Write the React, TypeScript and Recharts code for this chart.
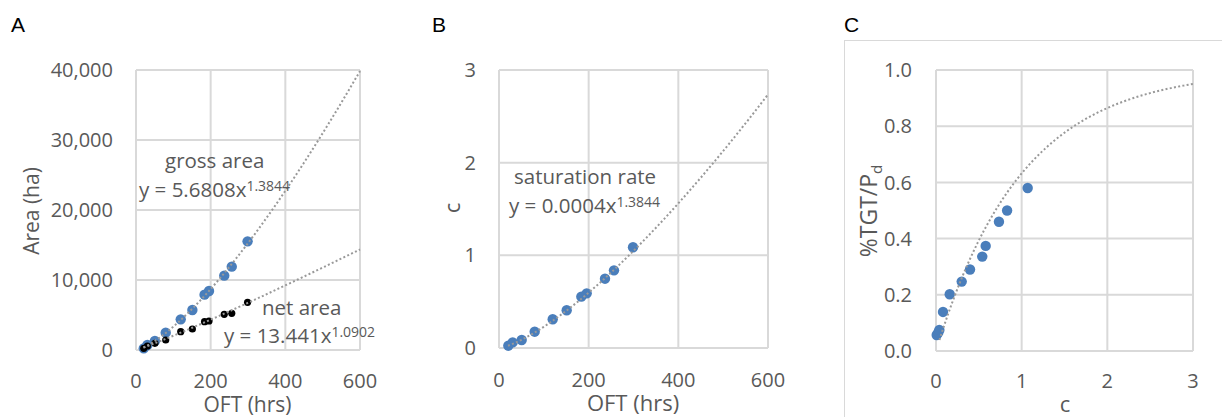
import React from 'react';
import { ScatterChart, Scatter, XAxis, YAxis, CartesianGrid } from 'recharts';

// ---------- data ----------
const OFT_HRS = [20.8, 30.5, 50.6, 79.6, 119.8, 151, 183.6, 195.6, 236.4, 256.5, 298.9];
const GROSS_AREA = [238, 714, 1286, 2476, 4381, 5714, 7905, 8429, 10619, 11905, 15524];
const NET_AREA = [238, 571, 952, 1429, 2619, 3000, 4048, 4143, 5095, 5238, 6810];
const SAT_RATE = [0.025, 0.061, 0.086, 0.176, 0.31, 0.407, 0.554, 0.59, 0.748, 0.838, 1.087];
const C_VALUES = [0.008, 0.027, 0.039, 0.082, 0.16, 0.3, 0.397, 0.54, 0.58, 0.735, 0.83, 1.07];
const TGT_PD = [0.057, 0.066, 0.075, 0.139, 0.202, 0.247, 0.29, 0.336, 0.374, 0.46, 0.5, 0.58];

// trendline equations shown on the chart
const GROSS_FIT = { a: 5.6808, b: 1.3844 };
const NET_FIT = { a: 13.441, b: 1.0902 };
const SAT_FIT = { a: 0.00039, b: 1.3844 }; // displayed as 0.0004
// panel C fitted curve: y = 1 - exp(-c)

// ticks
const OFT_TICKS = [0, 200, 400, 600];
const AREA_TICKS = [0, 10000, 20000, 30000, 40000];
const SAT_TICKS = [0, 1, 2, 3];
const C_TICKS = [0, 1, 2, 3];
const TGT_TICKS = [0, 0.2, 0.4, 0.6, 0.8, 1.0];

// ---------- derived ----------
const grossPts = OFT_HRS.map((x, i) => ({ x, y: GROSS_AREA[i] }));
const netPts = OFT_HRS.map((x, i) => ({ x, y: NET_AREA[i] }));
const satPts = OFT_HRS.map((x, i) => ({ x, y: SAT_RATE[i] }));
const cPts = C_VALUES.map((x, i) => ({ x, y: TGT_PD[i] }));

const powerCurve = (a: number, b: number, from: number, to: number, n = 80) =>
  Array.from({ length: n + 1 }, (_, i) => {
    const x = from + ((to - from) * i) / n;
    return { x, y: a * Math.pow(x, b) };
  });
const satCurve = (from: number, to: number, n = 80) =>
  Array.from({ length: n + 1 }, (_, i) => {
    const x = from + ((to - from) * i) / n;
    return { x, y: 1 - Math.exp(-x) };
  });

const grossTrend = powerCurve(GROSS_FIT.a, GROSS_FIT.b, 20, 600);
const netTrend = powerCurve(NET_FIT.a, NET_FIT.b, 20, 600);
const satTrend = powerCurve(SAT_FIT.a, SAT_FIT.b, 20, 600);
const cTrend = satCurve(0.04, 3);

// ---------- styles ----------
const FONT = "'Open Sans', sans-serif";
const TXT = '#595959';
const GRID = '#d9d9d9';
const BLUE = '#4A7EBB';
const TREND = { stroke: '#999999', strokeWidth: 2, strokeDasharray: '2 2.3' };
const tickStyle = { fill: TXT, fontSize: 20, fontFamily: FONT };

const BlueDot = (p: any) => <circle cx={p.cx} cy={p.cy} r={5.2} fill={BLUE} />;
const BlackDot = (p: any) => <circle cx={p.cx} cy={p.cy} r={3.6} fill="#000" />;
const NoDot = () => <g />;

const fmtThousands = (v: number) => v.toLocaleString('en-US');

export default function App() {
  return (
    <div style={{ position: 'absolute', left: 0, top: 0, width: 1222, height: 417, background: '#fff', overflow: 'hidden' }}>
      {/* panel C frame */}
      <div style={{ position: 'absolute', left: 844, top: 40, width: 420, height: 420, border: `1.5px solid ${GRID}`, boxSizing: 'border-box' }} />

      {/* Panel A */}
      <div style={{ position: 'absolute', left: 0, top: 0 }}>
        <ScatterChart width={410} height={417} margin={{ top: 70, right: 50, bottom: 0, left: 0 }}>
          <CartesianGrid stroke={GRID} strokeWidth={2} />
          <XAxis type="number" dataKey="x" domain={[0, 600]} ticks={OFT_TICKS} height={67}
            axisLine={false} tickLine={false} tickSize={0} tickMargin={24} tick={tickStyle} />
          <YAxis type="number" dataKey="y" domain={[0, 40000]} ticks={AREA_TICKS} width={136}
            axisLine={false} tickLine={false} tickSize={0} tickMargin={23} tick={tickStyle} tickFormatter={fmtThousands} />
          <Scatter data={grossPts} shape={BlueDot} isAnimationActive={false} />
          <Scatter data={netPts} shape={BlackDot} isAnimationActive={false} />
          <Scatter data={grossTrend} shape={NoDot} line={TREND} lineType="joint" isAnimationActive={false} />
          <Scatter data={netTrend} shape={NoDot} line={TREND} lineType="joint" isAnimationActive={false} />
        </ScatterChart>
      </div>

      {/* Panel B */}
      <div style={{ position: 'absolute', left: 410, top: 0 }}>
        <ScatterChart width={410} height={417} margin={{ top: 70, right: 52, bottom: 0, left: 0 }}>
          <CartesianGrid stroke={GRID} strokeWidth={2} />
          <XAxis type="number" dataKey="x" domain={[0, 600]} ticks={OFT_TICKS} height={69}
            axisLine={false} tickLine={false} tickSize={0} tickMargin={25} tick={tickStyle} />
          <YAxis type="number" dataKey="y" domain={[0, 3]} ticks={SAT_TICKS} width={89}
            axisLine={false} tickLine={false} tickSize={0} tickMargin={23} tick={tickStyle} />
          <Scatter data={satPts} shape={BlueDot} isAnimationActive={false} />
          <Scatter data={satTrend} shape={NoDot} line={TREND} lineType="joint" isAnimationActive={false} />
        </ScatterChart>
      </div>

      {/* Panel C */}
      <div style={{ position: 'absolute', left: 820, top: 0 }}>
        <ScatterChart width={402} height={417} margin={{ top: 70, right: 29, bottom: 0, left: 0 }}>
          <CartesianGrid stroke={GRID} strokeWidth={2} />
          <XAxis type="number" dataKey="x" domain={[0, 3]} ticks={C_TICKS} height={66}
            axisLine={false} tickLine={false} tickSize={0} tickMargin={23} tick={tickStyle} />
          <YAxis type="number" dataKey="y" domain={[0, 1]} ticks={TGT_TICKS} width={116}
            axisLine={false} tickLine={false} tickSize={0} tickMargin={24} tick={tickStyle}
            tickFormatter={(v: number) => v.toFixed(1)} />
          <Scatter data={cPts} shape={BlueDot} isAnimationActive={false} />
          <Scatter data={cTrend} shape={NoDot} line={TREND} lineType="joint" isAnimationActive={false} />
        </ScatterChart>
      </div>

      {/* text overlay */}
      <svg width={1222} height={417} style={{ position: 'absolute', left: 0, top: 0, pointerEvents: 'none' }}>
        <g fontFamily="'Liberation Sans', Arial, sans-serif" fontSize={21} fill="#000">
          <text x={11} y={32}>A</text>
          <text x={432} y={32}>B</text>
          <text x={844} y={32}>C</text>
        </g>
        <g fontFamily={FONT} fill={TXT}>
          {/* panel A annotations */}
          <text x={165} y={168} fontSize={20.5}>gross area</text>
          <text x={139} y={197} fontSize={20.5}>
            y = 5.6808x<tspan fontSize={14} dy={-6.5}>1.3844</tspan>
          </text>
          <text x={262} y={315} fontSize={20.5}>net area</text>
          <text x={224} y={343} fontSize={20.5}>
            y = 13.441x<tspan fontSize={14} dy={-6}>1.0902</tspan>
          </text>
          {/* panel B annotations */}
          <text x={514} y={184} fontSize={20.5}>saturation rate</text>
          <text x={509} y={213} fontSize={20.5}>
            y = 0.0004x<tspan fontSize={14} dy={-6.5}>1.3844</tspan>
          </text>

          {/* axis titles */}
          <text x={247.5} y={412} fontSize={21} textAnchor="middle">OFT (hrs)</text>
          <text x={633} y={411} fontSize={22} textAnchor="middle">OFT (hrs)</text>
          <text x={1065} y={412} fontSize={22} textAnchor="middle">c</text>
          <text transform="translate(39,211) rotate(-90)" fontSize={21} textAnchor="middle">Area (ha)</text>
          <text transform="translate(460,208) rotate(-90)" fontSize={22} textAnchor="middle">c</text>
          <text transform="translate(877,211) rotate(-90)" fontSize={23} textAnchor="middle">
            %TGT/P<tspan fontSize={15} dy={5}>d</tspan>
          </text>
        </g>
      </svg>
    </div>
  );
}
